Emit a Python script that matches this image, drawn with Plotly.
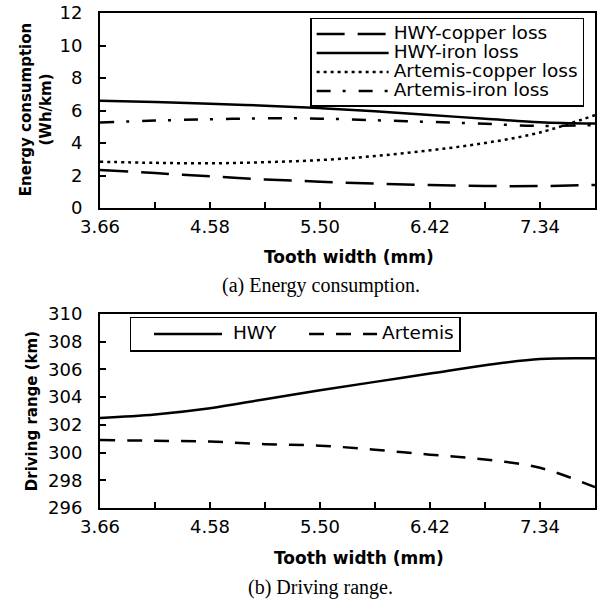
import plotly.graph_objects as go

# ---- data ----
tooth_width = [3.66, 4.12, 4.58, 5.04, 5.50, 5.96, 6.42, 6.88, 7.34, 7.80]
x_ticks = [3.66, 4.58, 5.50, 6.42, 7.34]
x_tick_labels = ["3.66", "4.58", "5.50", "6.42", "7.34"]

hwy_copper = [2.34, 2.15, 1.95, 1.76, 1.62, 1.50, 1.42, 1.36, 1.35, 1.42]
hwy_iron = [6.60, 6.52, 6.42, 6.30, 6.15, 5.95, 5.72, 5.50, 5.28, 5.20]
art_copper = [2.85, 2.78, 2.75, 2.82, 2.95, 3.20, 3.55, 4.00, 4.65, 5.72]
art_iron = [5.27, 5.38, 5.46, 5.52, 5.50, 5.40, 5.30, 5.18, 5.05, 5.10]

range_hwy = [302.5, 302.75, 303.2, 303.85, 304.5, 305.1, 305.7, 306.3, 306.75, 306.8]
range_art = [300.9, 300.85, 300.8, 300.6, 300.5, 300.2, 299.85, 299.5, 298.9, 297.5]

LW = 2.5
LEG_TXT = '<span style="font-size:18.5px">{}</span>'
fig = go.Figure()

top_series = [
    ("HWY-copper loss", hwy_copper, "28px,13px"),
    ("HWY-iron loss", hwy_iron, "solid"),
    ("Artemis-copper loss", art_copper, "3px,4px"),
    ("Artemis-iron loss", art_iron, "14px,12px,3px,13px"),
]
for name, vals, dash in top_series:
    fig.add_trace(go.Scatter(
        x=tooth_width, y=vals, name=LEG_TXT.format(name), mode="lines",
        line=dict(color="black", width=LW, dash=dash, shape="spline", smoothing=1.0),
        xaxis="x", yaxis="y", legend="legend"))

bottom_series = [
    ("\u00a0HWY", range_hwy, "solid"),
    ("Artemis", range_art, "15px,12px"),
]
for name, vals, dash in bottom_series:
    fig.add_trace(go.Scatter(
        x=tooth_width, y=vals, name=LEG_TXT.format(name), mode="lines",
        line=dict(color="black", width=LW, dash=dash, shape="spline", smoothing=1.0),
        xaxis="x2", yaxis="y2", legend="legend2"))

tick_font = dict(family="DejaVu Sans", size=18, color="black")
common_x = dict(
    range=[3.66, 7.80], tickmode="array", tickvals=x_ticks, ticktext=x_tick_labels,
    showline=True, mirror=True, linecolor="black", linewidth=2,
    ticks="inside", ticklen=6, tickwidth=2, tickcolor="black",
    minor=dict(tickmode="array", tickvals=[4.12, 5.04, 5.96, 6.88], ticks="inside",
               ticklen=6, tickwidth=2, tickcolor="black"),
    showgrid=False, zeroline=False, tickfont=tick_font, ticklabelstandoff=1,
)
common_y = dict(
    showline=True, mirror=True, linecolor="black", linewidth=2,
    ticks="inside", ticklen=6, tickwidth=2, tickcolor="black",
    showgrid=False, zeroline=False, tickfont=tick_font, ticklabelstandoff=12,
)

fig.update_layout(
    width=598, height=599,
    margin=dict(l=100, r=1, t=13, b=91),
    paper_bgcolor="white", plot_bgcolor="white",
    xaxis=dict(domain=[0, 1], anchor="y", **common_x),
    yaxis=dict(domain=[0.606, 1.0], anchor="x", range=[0, 12], dtick=2, tick0=0, **common_y),
    xaxis2=dict(domain=[0, 1], anchor="y2", **common_x),
    yaxis2=dict(domain=[0, 0.392], anchor="x2", range=[296, 310], dtick=2, tick0=296, **common_y),
    legend=dict(x=0.4245, y=0.99, xanchor="left", yanchor="top",
                bgcolor="white", bordercolor="black", borderwidth=1.5,
                font=dict(family="DejaVu Sans", size=12, color="black"),
                itemwidth=72, tracegroupgap=0),
    legend2=dict(x=0.0604, y=0.386, xanchor="left", yanchor="top", orientation="h",
                 bgcolor="white", bordercolor="black", borderwidth=1.5,
                 font=dict(family="DejaVu Sans", size=14, color="black"),
                 itemwidth=68, entrywidth=72,
                 title=dict(text="\u00a0\u00a0", side="left",
                            font=dict(family="DejaVu Sans", size=12))),
    showlegend=True,
)

title_font = dict(family="DejaVu Sans", size=17, color="black")
ytitle_font = dict(family="DejaVu Sans", size=15, color="black")
cap_font = dict(family="Liberation Serif", size=20, color="black")
ann = [
    dict(text="<b>Tooth width (mm)</b>", x=0.503, y=0.507, font=title_font),
    dict(text="(a) Energy consumption.", x=0.447, y=0.4485, font=cap_font),
    dict(text="<b>Tooth width (mm)</b>", x=0.523, y=-0.101, font=title_font),
    dict(text="(b) Driving range.", x=0.445, y=-0.16, font=cap_font),
    dict(text="<b>Energy consumption<br>(Wh/km)</b>", x=-0.129, y=0.804, font=ytitle_font, textangle=-90),
    dict(text="<b>Driving range (km)</b>", x=-0.137, y=0.196, font=ytitle_font, textangle=-90),
]
for a in ann:
    fig.add_annotation(xref="paper", yref="paper", showarrow=False,
                       xanchor="center", yanchor="middle", **a)

fig.write_html("out.html")
